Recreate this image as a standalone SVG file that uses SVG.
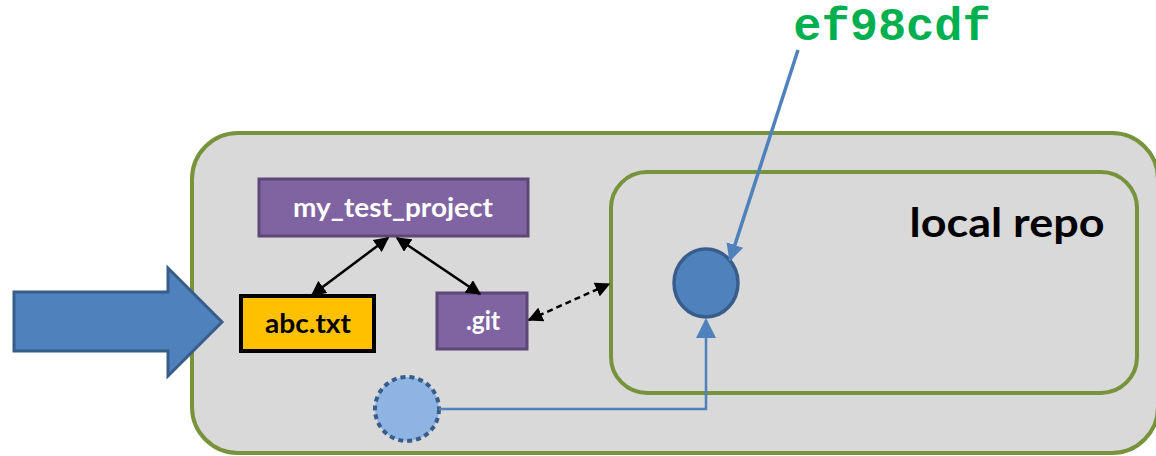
<svg xmlns="http://www.w3.org/2000/svg" width="1156" height="456" viewBox="0 0 1156 456">
<style>
.lbl{font-family:Lato,"Open Sans","Liberation Sans",sans-serif;font-weight:bold;text-anchor:middle}
.purple{fill:#8064A2;stroke:#5C4776;stroke-width:3}
.blk{stroke:#000;stroke-width:2.5;fill:none}
</style>
<defs>
<marker id="ah" viewBox="0 0 10 10" refX="9" refY="5" markerWidth="6" markerHeight="6" orient="auto-start-reverse" markerUnits="strokeWidth"><path d="M0,0 L10,5 L0,10 z" fill="#000"/></marker>
<marker id="bh" viewBox="0 0 10 10" refX="9" refY="5" markerWidth="5" markerHeight="5" orient="auto" markerUnits="strokeWidth"><path d="M0,0 L10,5 L0,10 z" fill="#4F81BD"/></marker>
<marker id="bh2" viewBox="0 0 10 10" refX="9" refY="5" markerWidth="8" markerHeight="8" orient="auto" markerUnits="strokeWidth"><path d="M0,0 L10,5 L0,10 z" fill="#4F81BD"/></marker>
</defs>
<g id="outer"><rect x="192" y="133" width="966" height="320" rx="46" fill="#D9D9D9" stroke="#77933C" stroke-width="4"/></g>
<g id="local-repo"><rect x="611" y="172" width="526" height="221" rx="36" fill="#D9D9D9" stroke="#77933C" stroke-width="4"/>
<text class="lbl" x="1007" y="237" font-size="40" fill="#000" textLength="195" lengthAdjust="spacingAndGlyphs">local repo</text></g>
<g id="big-arrow"><path d="M14,292 L168,292 L168,268 L222,322 L168,376 L168,351 L14,351 z" fill="#4F81BD" stroke="#385D8A" stroke-width="3"/></g>
<g id="my_test_project"><rect class="purple" x="259" y="179" width="269" height="57"/><text class="lbl" x="393" y="217" font-size="26" fill="#fff" textLength="200" lengthAdjust="spacingAndGlyphs">my_test_project</text></g>
<g id="abc"><rect x="241" y="296" width="133" height="55" fill="#FFC000" stroke="#000" stroke-width="4"/><text class="lbl" x="308" y="333" font-size="26" fill="#000" textLength="86" lengthAdjust="spacingAndGlyphs">abc.txt</text></g>
<g id="git"><rect class="purple" x="437" y="293" width="90" height="56"/><text class="lbl" x="483" y="330" font-size="26" fill="#fff" textLength="34" lengthAdjust="spacingAndGlyphs">.git</text></g>
<g id="commit"><ellipse cx="706" cy="283" rx="32" ry="34" fill="#4F81BD" stroke="#385D8A" stroke-width="3.5"/></g>
<g id="staged"><circle cx="407" cy="409" r="32" fill="#8EB4E3" stroke="#385D8A" stroke-width="4" stroke-dasharray="5 4"/></g>
<g id="hash"><text x="892" y="40" font-family="'Liberation Mono','Courier New',monospace" font-weight="bold" font-size="47" fill="#00B050" text-anchor="middle">ef98cdf</text></g>
<g id="connectors">
<line class="blk" x1="388" y1="238" x2="312" y2="295" marker-start="url(#ah)" marker-end="url(#ah)"/>
<line class="blk" x1="397" y1="238" x2="480" y2="294" marker-start="url(#ah)" marker-end="url(#ah)"/>
<line class="blk" x1="529" y1="320" x2="609" y2="284" stroke-dasharray="6 4" marker-start="url(#ah)" marker-end="url(#ah)"/>
<polyline points="439,409 706,409 706,320" fill="none" stroke="#4F81BD" stroke-width="2.5" marker-end="url(#bh2)"/>
<line x1="798" y1="50" x2="730" y2="260" stroke="#4F81BD" stroke-width="3.5" marker-end="url(#bh)"/>
</g>
</svg>
